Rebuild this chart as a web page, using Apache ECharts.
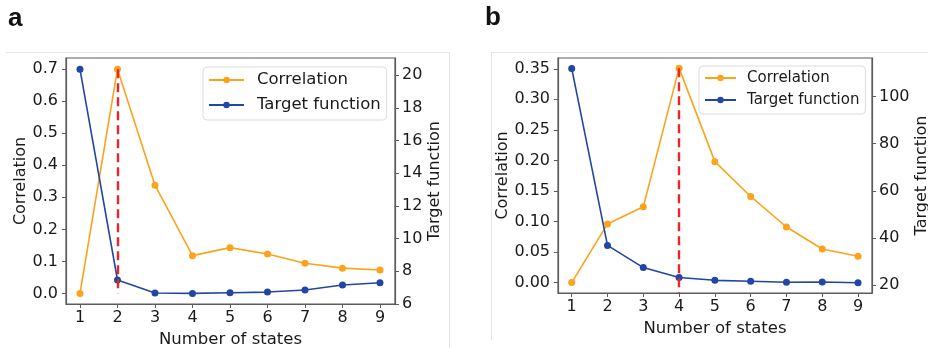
<!DOCTYPE html>
<html>
<head>
<meta charset="utf-8">
<script src="https://cdn.jsdelivr.net/npm/echarts@6/dist/echarts.min.js"></script>
<style>
html, body {margin: 0; padding: 0; background: #fff;}
#main {width: 928px; height: 348px;}
</style>
</head>
<body>
<div id="main"></div>
<script>
// number of states on the x axis
var states = [1, 2, 3, 4, 5, 6, 7, 8, 9];
// panel a
var corrA = [0.0, 0.70, 0.338, 0.118, 0.143, 0.123, 0.094, 0.079, 0.073];
var targetA = [20.37, 7.47, 6.67, 6.65, 6.69, 6.73, 6.86, 7.16, 7.30];
// panel b
var corrB = [0.0, 0.096, 0.124, 0.351, 0.198, 0.141, 0.091, 0.055, 0.043];
var targetB = [111.9, 36.9, 27.5, 23.3, 22.1, 21.7, 21.3, 21.4, 21.1];
// tick labels
var corrTicksA = [0, 0.1, 0.2, 0.3, 0.4, 0.5, 0.6, 0.7];
var targetTicksA = [6, 8, 10, 12, 14, 16, 18, 20];
var corrTicksB = [0, 0.05, 0.1, 0.15, 0.2, 0.25, 0.3, 0.35];
var targetTicksB = [20, 40, 60, 80, 100];

var ORANGE = '#fba31c';
var BLUE = '#2146a3';
var RED = '#e8262b';
var AXIS = '#5c5c5c';
var TEXT = '#1a1a1a';
var FONT = 'DejaVu Sans';

function pairs(xs, ys) {
	var out = [];
	for (var i = 0; i < xs.length; i++) {
		out.push([xs[i], ys[i]]);
	}
	return out;
}

function peakIndex(arr) {
	var k = 0;
	for (var i = 1; i < arr.length; i++) {
		if (arr[i] > arr[k]) k = i;
	}
	return k;
}

function xAxisFor(grid, min, max, nameGap) {
	return {
		type: 'value',
		gridIndex: grid,
		min: min,
		max: max,
		name: 'Number of states',
		nameLocation: 'middle',
		nameGap: nameGap,
		nameTextStyle: {color: TEXT, fontFamily: FONT, fontSize: 16.5},
		splitLine: {show: false},
		axisLine: {show: true, onZero: false, lineStyle: {color: AXIS, width: 1.2}},
		axisTick: {show: true, length: 4, customValues: states, lineStyle: {color: AXIS}},
		axisLabel: {customValues: states, margin: 6, color: TEXT, fontFamily: FONT, fontSize: 16}
	};
}

function yAxisFor(grid, pos, min, max, ticks, digits, name, nameGap, margin) {
	return {
		type: 'value',
		gridIndex: grid,
		position: pos,
		min: min,
		max: max,
		name: name,
		nameLocation: 'middle',
		nameGap: nameGap,
		nameTextStyle: {color: TEXT, fontFamily: FONT, fontSize: 16},
		splitLine: {show: false},
		axisLine: {show: true, onZero: false, lineStyle: {color: AXIS, width: 1.2}},
		axisTick: {show: true, length: 4, customValues: ticks, lineStyle: {color: AXIS}},
		axisLabel: {
			customValues: ticks, margin: margin, color: TEXT, fontFamily: FONT, fontSize: 16,
			formatter: function (v) {
				return Number(v).toFixed(digits);
			}
		}
	};
}

function lineSeries(name, color, x, y, data) {
	return {
		name: name,
		type: 'line',
		xAxisIndex: x,
		yAxisIndex: y,
		data: data,
		symbol: 'circle',
		symbolSize: 7,
		animation: false,
		lineStyle: {color: color, width: 1.6},
		itemStyle: {color: color}
	};
}

function peakLine(corr, bottom) {
	var k = peakIndex(corr);
	return {
		silent: true,
		symbol: 'none',
		animation: false,
		label: {show: false},
		lineStyle: {color: RED, type: [9, 5], width: 2.4},
		data: [[{coord: [states[k], corr[k]]}, {coord: [states[k], bottom]}]]
	};
}

function legendFor(left, top, fontSize, iconW, rowH, gap, textPad) {
	return {
		orient: 'vertical',
		left: left,
		top: top,
		data: ['Correlation', 'Target function'],
		itemWidth: iconW,
		itemHeight: 8,
		itemGap: gap,
		padding: [3, 6, 5, 5],
		backgroundColor: 'rgba(255,255,255,0.85)',
		borderColor: '#dcdcdc',
		borderWidth: 1,
		borderRadius: 4,
		textStyle: {color: TEXT, fontFamily: FONT, fontSize: fontSize, lineHeight: rowH, padding: [0, 0, 0, textPad]}
	};
}

var myChart = echarts.init(document.getElementById('main'));

var seriesA1 = lineSeries('Correlation', ORANGE, 0, 0, pairs(states, corrA));
seriesA1.markLine = peakLine(corrA, 0);
var seriesB1 = lineSeries('Correlation', ORANGE, 1, 2, pairs(states, corrB));
seriesB1.markLine = peakLine(corrB, -0.017);

var option = {
	backgroundColor: '#fff',
	animation: false,
	grid: [
		{left: 66, top: 58, width: 329, height: 246, show: true, borderColor: AXIS, borderWidth: 1.2, backgroundColor: 'transparent', outerBoundsMode: 'none'},
		{left: 558, top: 58, width: 314, height: 235, show: true, borderColor: AXIS, borderWidth: 1.2, backgroundColor: 'transparent', outerBoundsMode: 'none'}
	],
	xAxis: [
		xAxisFor(0, 0.627, 9.4, 26),
		xAxisFor(1, 0.617, 9.39, 24)
	],
	yAxis: [
		yAxisFor(0, 'left', -0.033, 0.735, corrTicksA, 1, 'Correlation', 37, 8),
		yAxisFor(0, 'right', 6, 21.06, targetTicksA, 0, 'Target function', 32, 7),
		yAxisFor(1, 'left', -0.017, 0.3676, corrTicksB, 2, 'Correlation', 44, 8),
		yAxisFor(1, 'right', 16.73, 116.3, targetTicksB, 0, 'Target function', 38, 7)
	],
	legend: [
		legendFor(203, 67, 16.5, 35, 20, 5, 8),
		legendFor(699, 66, 15, 31, 18, 4, 6)
	],
	graphic: [
		{type: 'line', silent: true, shape: {x1: 6, y1: 52.5, x2: 449, y2: 52.5}, style: {stroke: '#e6e6e6', lineWidth: 1}},
		{type: 'line', silent: true, shape: {x1: 449.5, y1: 52, x2: 449.5, y2: 348}, style: {stroke: '#e6e6e6', lineWidth: 1}},
		{type: 'line', silent: true, shape: {x1: 491, y1: 52.5, x2: 928, y2: 52.5}, style: {stroke: '#e6e6e6', lineWidth: 1}},
		{type: 'line', silent: true, shape: {x1: 491.5, y1: 52, x2: 491.5, y2: 340}, style: {stroke: '#e6e6e6', lineWidth: 1}},
		{type: 'text', left: 8, top: 6, style: {text: 'a', fill: '#111', font: 'bold 26px "Liberation Sans", Arial, sans-serif'}},
		{type: 'text', left: 485, top: 5, style: {text: 'b', fill: '#111', font: 'bold 26px "Liberation Sans", Arial, sans-serif'}}
	],
	series: [
		seriesA1,
		lineSeries('Target function', BLUE, 0, 1, pairs(states, targetA)),
		seriesB1,
		lineSeries('Target function', BLUE, 1, 3, pairs(states, targetB))
	]
};
myChart.setOption(option, true);
</script>
</body>
</html>
